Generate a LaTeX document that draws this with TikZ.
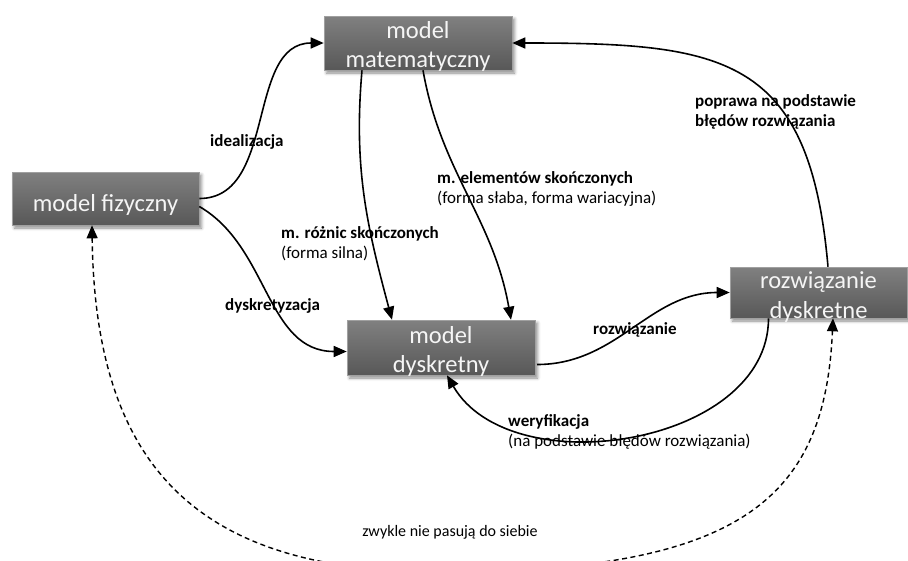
\documentclass[tikz,border=0pt]{standalone}
\usepackage{fontspec}
\setmainfont{Carlito}
\usetikzlibrary{arrows.meta,shadows.blur}

\definecolor{boxtop}{RGB}{128,128,128}
\definecolor{boxbot}{RGB}{88,88,88}
\definecolor{boxedge}{RGB}{160,160,160}
\definecolor{boxtext}{RGB}{245,245,245}

% box captions: zero-size boxes, so the caption never changes the box size
\newcommand\capone[1]{\raisebox{-13pt}[0pt][0pt]{#1}}
\newcommand\captwo[3][5pt]{\raisebox{#1}[0pt][0pt]{\parbox[t]{170pt}{\centering #2\\#3}}}

\begin{document}
\begin{tikzpicture}[x=1pt,y=1pt,
  box/.style={rectangle, inner sep=0pt,
    top color=boxtop, bottom color=boxbot, draw=boxedge, line width=0.6pt,
    text=boxtext, font=\fontsize{24.5}{29.5}\selectfont,
    blur shadow={shadow xshift=2.5pt, shadow yshift=-3pt,
      shadow blur radius=3pt, shadow opacity=45}},
  conn/.style={line width=1.6pt, -{Triangle[length=13pt,width=11pt]}},
  dashconn/.style={line width=1.4pt, dash pattern=on 5pt off 3.5pt,
    {Triangle[length=13pt,width=11pt]}-{Triangle[length=13pt,width=11pt]}},
  lab/.style={inner sep=0pt, align=left, font=\fontsize{17}{20.5}\selectfont},
  note/.style={inner sep=0pt, font=\fontsize{16}{19}\selectfont},
]
\useasboundingbox (0,0) rectangle (908,-560);
\clip (0,0) rectangle (908,-560);

% the four stages of the modelling process
\node[box, minimum width=188pt, minimum height=54pt] (mat) at (418,-43) {\captwo{model}{matematyczny}};
\node[box, minimum width=187pt, minimum height=53pt] (fiz) at (105.5,-198.5) {\capone{model fizyczny}};
\node[box, minimum width=188pt, minimum height=55pt] (dys) at (441,-347.5) {\captwo[4.5pt]{model}{dyskretny}};
\node[box, minimum width=177pt, minimum height=51pt] (roz) at (818.5,-292.5) {\captwo[4pt]{rozwiązanie}{dyskretne}};

% transitions between the stages
\draw[conn] (fiz.east) to[out=0,in=180] (mat.west);
\draw[conn] ([yshift=-8pt]fiz.east) to[out=-30,in=180] ([yshift=-4pt]dys.west);
\draw[conn] ([xshift=-56pt]mat.south) to[out=-95,in=105] ([xshift=-49pt]dys.north);
\draw[conn] ([xshift=5pt]mat.south) to[out=-80,in=100] ([xshift=70pt]dys.north);
\draw[conn] ([xshift=96pt,yshift=-17pt]dys.center) to[out=0,in=180] (roz.west);
\draw[conn] ([xshift=-50pt]roz.south) to[out=-90,in=-60] ([xshift=6pt]dys.south);
\draw[conn] ([xshift=9.5pt]roz.north) to[out=95,in=0,looseness=1.4] (mat.east);

% physical model versus discrete solution
\draw[dashconn] ([xshift=-13.5pt]fiz.south)
  .. controls (95,-470) and (200,-572) .. (440,-572)
  .. controls (740,-572) and (825,-500) .. ([xshift=14.5pt]roz.south);

% labels of the transitions
\node[lab, anchor=base west] (lideal) at (210,-146) {\bfseries idealizacja};
\node[lab, anchor=base west] (ldysk) at (225,-310) {\bfseries dyskretyzacja};
\node[lab, anchor=north west] (lroznic) at (281,-226) {\textbf{m. różnic skończonych}\\(forma silna)};
\node[lab, anchor=north west] (lelem) at (437,-171) {\textbf{m. elementów skończonych}\\(forma słaba, forma wariacyjna)};
\node[lab, anchor=base west] (lrozw) at (593,-334) {\bfseries rozwiązanie};
\node[lab, anchor=north west] (lwer) at (508,-414) {\textbf{weryfikacja}\\(na podstawie błędów rozwiązania)};
\node[lab, anchor=north west] (lpopr) at (695,-94) {\bfseries poprawa na podstawie\\\bfseries błędów rozwiązania};
\node[note, anchor=base] (lnote) at (450,-536) {zwykle nie pasują do siebie};
\end{tikzpicture}
\end{document}
